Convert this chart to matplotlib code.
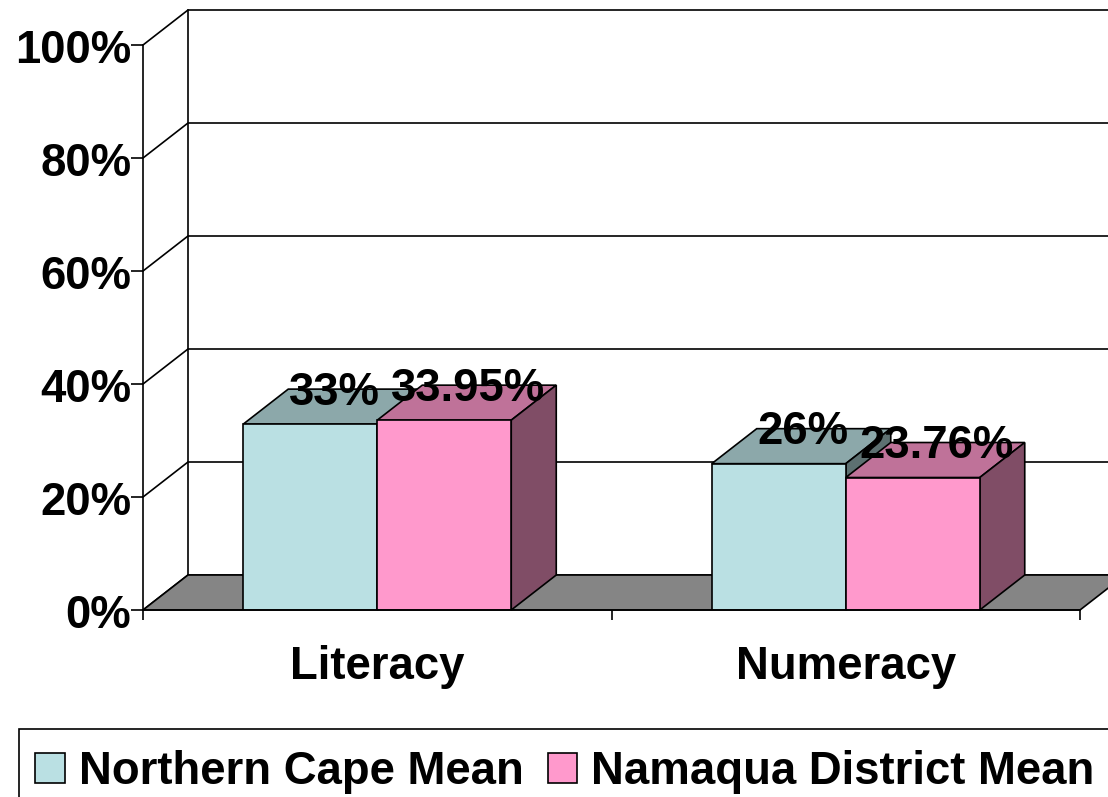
import numpy as np
import matplotlib
matplotlib.use("Agg")
import matplotlib.pyplot as plt
from matplotlib.patches import Polygon, Patch, Rectangle
from matplotlib.ticker import FuncFormatter
from matplotlib.transforms import ScaledTranslation

plt.rcParams['font.family'] = ['Liberation Sans', 'DejaVu Sans']
plt.rcParams['font.weight'] = 'bold'

categories = ["Literacy", "Numeracy"]
series_names = ["Northern Cape Mean", "Namaqua District Mean"]
# bar heights as drawn, the printed labels are not quite the same
cape_values = [32.9, 25.9]
namaqua_values = [33.6, 23.45]
cape_labels = ["33%", "26%"]
namaqua_labels = ["33.95%", "23.76%"]
y_ticks = [0, 20, 40, 60, 80, 100]

W, H = 1108, 797
fs = 32.8
fig = plt.figure(figsize=(W / 100, H / 100), dpi=100)
ax = fig.add_axes([143 / W, 1 - 610 / H, (1080 - 143) / W, (610 - 45) / H])
ax.set_xlim(0, 2)
ax.set_ylim(0, 100)

# depth of the fake 3d box, in data units
dx = 45 / (1080 - 143) * 2
dy = 35 / (610 - 45) * 100
lw = 1.2
bar_w = 134 / (1080 - 143) * 2

# back wall and side wall
for v in y_ticks:
    ax.plot([0, dx, 2 + dx], [v, v + dy, v + dy], color='k', lw=lw, clip_on=False, zorder=1)
ax.plot([dx, dx], [dy, 100 + dy], color='k', lw=lw, clip_on=False, zorder=1)
ax.add_patch(Polygon([(0, 0), (dx, dy), (2 + dx, dy), (2, 0)], closed=True, fc='#858585',
                     ec='k', lw=lw, clip_on=False, zorder=2))


def draw_bars(x, vals, col, top_col, side_col, z):
    ax.bar(x, vals, bar_w, color=col, edgecolor='k', linewidth=lw, zorder=z + 0.2)
    for xi, v in zip(x, vals):
        l, r = xi - bar_w / 2, xi + bar_w / 2
        ax.add_patch(Polygon([(l, v), (l + dx, v + dy), (r + dx, v + dy), (r, v)], closed=True,
                             fc=top_col, ec='k', lw=lw, clip_on=False, zorder=z))
        ax.add_patch(Polygon([(r, 0), (r + dx, dy), (r + dx, v + dy), (r, v)], closed=True,
                             fc=side_col, ec='k', lw=lw, clip_on=False, zorder=z))


x = np.arange(len(categories)) + 0.5
draw_bars(x - bar_w / 2, cape_values, '#BAE0E3', '#8CA8AA', '#5D7071', 3)
draw_bars(x + bar_w / 2, namaqua_values, '#FF99CC', '#BF7299', '#804D66', 4)

# labels sit a bit right of and below the back top edge
lab_dx = dx / 2 + 0.003
lab_dy = dy - 0.6
for xi, v, s in zip(x - bar_w / 2, cape_values, cape_labels):
    ax.text(xi + lab_dx, v + lab_dy, s, fontsize=fs, ha='center', va='center', zorder=6, clip_on=False)
for xi, v, s in zip(x + bar_w / 2, namaqua_values, namaqua_labels):
    ax.text(xi + lab_dx, v + lab_dy, s, fontsize=fs, ha='center', va='center', zorder=6, clip_on=False)

for s in ['top', 'right']:
    ax.spines[s].set_visible(False)
for s in ['left', 'bottom']:
    ax.spines[s].set_linewidth(lw)
    ax.spines[s].set_zorder(5)

ax.set_yticks(y_ticks)
ax.yaxis.set_major_formatter(FuncFormatter(lambda v, p: f"{v:.0f}%"))
ax.tick_params(axis='y', length=8.5, width=lw, labelsize=fs, pad=0)
shift = ScaledTranslation(0, -1 / 100, fig.dpi_scale_trans)
for t in ax.get_yticklabels():
    t.set_transform(t.get_transform() + shift)
ax.set_xticks([0, 1, 2])
ax.set_xticklabels([])
ax.tick_params(axis='x', which='major', length=7, width=lw)
ax.set_xticks(x, minor=True)
ax.set_xticklabels(categories, minor=True)
ax.tick_params(axis='x', which='minor', length=0, labelsize=fs, pad=25)

# legend box runs off the figure on the right and bottom
fig.add_artist(Rectangle((19 / W, -0.02), 1.1, 1 - 729 / H + 0.02, transform=fig.transFigure,
                         fc='white', ec='k', lw=lw))
handles = [Patch(fc='#BAE0E3', ec='k', lw=lw), Patch(fc='#FF99CC', ec='k', lw=lw)]
leg = fig.legend(handles, series_names, loc='upper left', bbox_to_anchor=(35 / W, 1 - 750 / H),
                 borderaxespad=0, ncol=2, fontsize=fs, frameon=False,
                 handlelength=0.65, handleheight=0.65, handletextpad=0.31, columnspacing=0.53,
                 borderpad=0)
leg.set_zorder(10)

fig.savefig("out.png", dpi=100)
